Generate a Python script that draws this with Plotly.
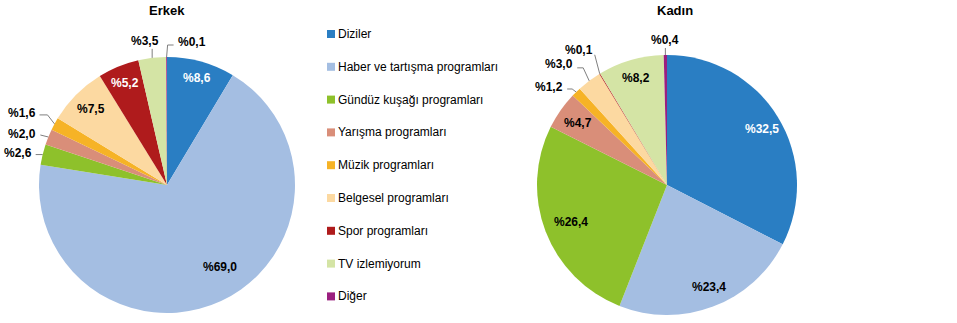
import math
import plotly.graph_objects as go

# Programme categories (shared by both pies and the legend)
categories = [
    "Diziler",
    "Haber ve tartışma programları",
    "Gündüz kuşağı programları",
    "Yarışma programları",
    "Müzik programları",
    "Belgesel programları",
    "Spor programları",
    "TV izlemiyorum",
    "Diğer",
]

# Share of viewers (%) by programme type
erkek_values = [8.6, 69.0, 2.6, 2.0, 1.6, 7.5, 5.2, 3.5, 0.1]
kadin_values = [32.5, 23.4, 26.4, 4.7, 1.2, 3.0, 0.1, 8.2, 0.4]

pie_titles = ["Erkek", "Kadın"]

colors = ["#2A7EC3", "#A4BEE2", "#8EC12B", "#D98E79", "#F6B326",
          "#FCD9A1", "#AF1B1C", "#D4E4A5", "#9B1F7F"]

W, H = 957, 323
FONT = "Liberation Sans, Arial, sans-serif"

# pie geometry in pixels: centre x, centre y, radius
geoms = [(167, 185, 128), (667, 185, 130)]
title_x = [167, 675]

# label styles per slice:
#  ("in", radius fraction, text colour, nudge dx, nudge dy)
#  ("out", knee dx, knee dy, tail dx, label anchor, label dx, label dy)
erkek_styles = [
    ("in", 0.87, "white", 0, 0),
    ("in", 0.765, "black", 12, -7),
    ("out", -7, 0, 0, "right", -2, -2),
    ("out", -8, -2, 0, "right", -2, -1),
    ("out", -7, -9, -8, "right", -2, -2),
    ("in", 0.84, "black", 0, 0),
    ("in", 0.86, "white", 0, 0),
    ("out", 0, -9, 0, "center", -7, -8),
    ("out", 1, -12, 6, "left", 2, -3),
]
kadin_styles = [
    ("in", 0.83, "white", 3, 0),
    ("in", 0.85, "black", 3, -1),
    ("in", 0.79, "black", 0, 0),
    ("in", 0.835, "black", 0, 0),
    ("out", -4, -3, -5, "right", -2, -2),
    ("out", -6, -13, -6, "right", -2, -4),
    ("out", -5, -19, 0, "right", 0, -5),
    ("in", 0.86, "black", 0, 0),
    ("out", 0, -7, 0, "center", 0, -8),
]


def px(x):
    return x / W


def py(y):
    return 1 - y / H


def fmt(v):
    return "%" + f"{v:.1f}".replace(".", ",")


fig = go.Figure()
annotations = []
shapes = []

for k, (vals, styles) in enumerate([(erkek_values, erkek_styles),
                                    (kadin_values, kadin_styles)]):
    cx, cy, r = geoms[k]
    fig.add_trace(go.Pie(
        labels=categories,
        values=vals,
        sort=False,
        direction="clockwise",
        rotation=0,
        textinfo="none",
        hoverinfo="label+value",
        marker=dict(colors=colors, line=dict(width=0)),
        domain=dict(x=[px(cx - r), px(cx + r)], y=[py(cy + r), py(cy - r)]),
        showlegend=False,
    ))
    annotations.append(dict(
        text="<b>" + pie_titles[k] + "</b>", x=px(title_x[k]), y=py(10),
        xref="paper", yref="paper", showarrow=False,
        xanchor="center", yanchor="middle",
        font=dict(family=FONT, size=13, color="black"),
    ))

    total = sum(vals)
    cum = 0.0
    for v, st in zip(vals, styles):
        mid = (cum + v / 2) / total * 2 * math.pi
        cum += v
        sx, sy = math.sin(mid), -math.cos(mid)
        if st[0] == "in":
            _, frac, tcol, ndx, ndy = st
            lx = cx + frac * r * sx + ndx
            ly = cy + frac * r * sy + ndy
            annotations.append(dict(
                text="<b>" + fmt(v) + "</b>", x=px(lx), y=py(ly),
                xref="paper", yref="paper", showarrow=False,
                xanchor="center", yanchor="middle",
                font=dict(family=FONT, size=12, color=tcol),
            ))
        else:
            _, kdx, kdy, tdx, anchor, ldx, ldy = st
            ex, ey = cx + r * sx, cy + r * sy
            kx, ky = ex + kdx, ey + kdy
            tx = kx + tdx
            shapes.append(dict(type="line", xref="paper", yref="paper",
                               x0=px(ex), y0=py(ey), x1=px(kx), y1=py(ky),
                               line=dict(color="#7F7F7F", width=1)))
            if tdx != 0:
                shapes.append(dict(type="line", xref="paper", yref="paper",
                                   x0=px(kx), y0=py(ky), x1=px(tx), y1=py(ky),
                                   line=dict(color="#7F7F7F", width=1)))
            annotations.append(dict(
                text="<b>" + fmt(v) + "</b>", x=px(tx + ldx), y=py(ky + ldy),
                xref="paper", yref="paper", showarrow=False,
                xanchor=anchor, yanchor="middle",
                font=dict(family=FONT, size=12, color="black"),
            ))

# legend drawn as coloured squares with text
leg_x, leg_y0, leg_dy = 327, 34, 32.8
for i, (name, col) in enumerate(zip(categories, colors)):
    yc = leg_y0 + i * leg_dy
    shapes.append(dict(type="rect", xref="paper", yref="paper",
                       x0=px(leg_x), x1=px(leg_x + 8),
                       y0=py(yc + 4), y1=py(yc - 4),
                       fillcolor=col, line=dict(width=0)))
    annotations.append(dict(
        text=name, x=px(leg_x + 9), y=py(yc),
        xref="paper", yref="paper", showarrow=False,
        xanchor="left", yanchor="middle",
        font=dict(family=FONT, size=12, color="black"),
    ))

fig.update_layout(
    width=W, height=H,
    margin=dict(l=0, r=0, t=0, b=0),
    paper_bgcolor="white",
    plot_bgcolor="white",
    annotations=annotations,
    shapes=shapes,
)

fig.write_html("out.html")
